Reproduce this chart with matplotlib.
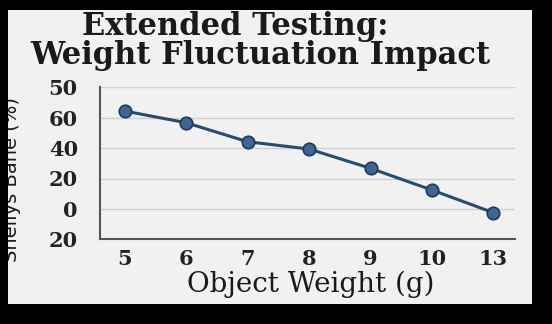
import matplotlib.pyplot as plt
from matplotlib.patches import Rectangle

# 数据
x_labels = ["5", "6", "7", "8", "9", "10", "13"]
stability = [64.4, 56.7, 44.2, 39.4, 26.7, 12.4, -2.5]
y_ticks = [80, 60, 40, 20, 0, -20]
y_tick_labels = ["50", "60", "40", "20", "0", "20"]

W, H = 552, 324
fig = plt.figure(figsize=(W / 100, H / 100), dpi=100, facecolor="black")

# 面板
panel = Rectangle((8 / W, 1 - 304 / H), 524 / W, 294 / H, transform=fig.transFigure,
                  facecolor="#f1f1f1", edgecolor="none", zorder=0)
fig.patches.append(panel)

ax = fig.add_axes([100 / W, 1 - 239.3 / H, 415 / W, 152 / H], zorder=2)
ax.set_facecolor("#f1f1f1")

xs = list(range(len(x_labels)))
ax.plot(xs, stability, color="#284b6e", linewidth=2.2, marker="o", markersize=9,
        markerfacecolor="#3e6690", markeredgecolor="#1f3957", markeredgewidth=1.2, zorder=3)

ax.set_xlim(-0.4, 6.35)
ax.set_ylim(-20, 80)
ax.set_yticks(y_ticks)
ax.set_yticklabels(y_tick_labels)
ax.set_xticks(xs)
ax.set_xticklabels(x_labels)
ax.grid(axis="y", color="#cfcfcf", linewidth=1.0)
ax.set_axisbelow(True)

for s in ["top", "right"]:
    ax.spines[s].set_visible(False)
ax.spines["left"].set_color("#555555")
ax.spines["left"].set_linewidth(1.5)
ax.spines["bottom"].set_color("#555555")
ax.spines["bottom"].set_linewidth(1.5)

ax.tick_params(length=0)
ax.tick_params(axis="y", pad=16)
ax.tick_params(axis="x", pad=7)
for lab in ax.get_yticklabels() + ax.get_xticklabels():
    lab.set_family("DejaVu Serif")
    lab.set_fontsize(15)
    lab.set_fontweight("bold")
    lab.set_color("#222222")

# 标题
fig.text(235 / W, 1 - 35 / H, "Extended Testing:", ha="center", va="baseline",
         family="DejaVu Serif", fontsize=22, fontweight="bold", color="#1a1a1a")
fig.text(260 / W, 1 - 64 / H, "Weight Fluctuation Impact", ha="center", va="baseline",
         family="DejaVu Serif", fontsize=22, fontweight="bold", color="#1a1a1a")

# 轴标签
fig.text(311 / W, 1 - 292 / H, "Object Weight (g)", ha="center", va="baseline",
         family="DejaVu Serif", fontsize=20, color="#1a1a1a")
ylab = fig.text(12 / W, 1 - 180 / H, "Snellys Bane (%)", ha="center", va="center",
                rotation=90, family="DejaVu Sans", fontsize=14, color="#1a1a1a")
ylab.set_clip_path(panel)

fig.savefig("out.png", dpi=100, facecolor="black")
